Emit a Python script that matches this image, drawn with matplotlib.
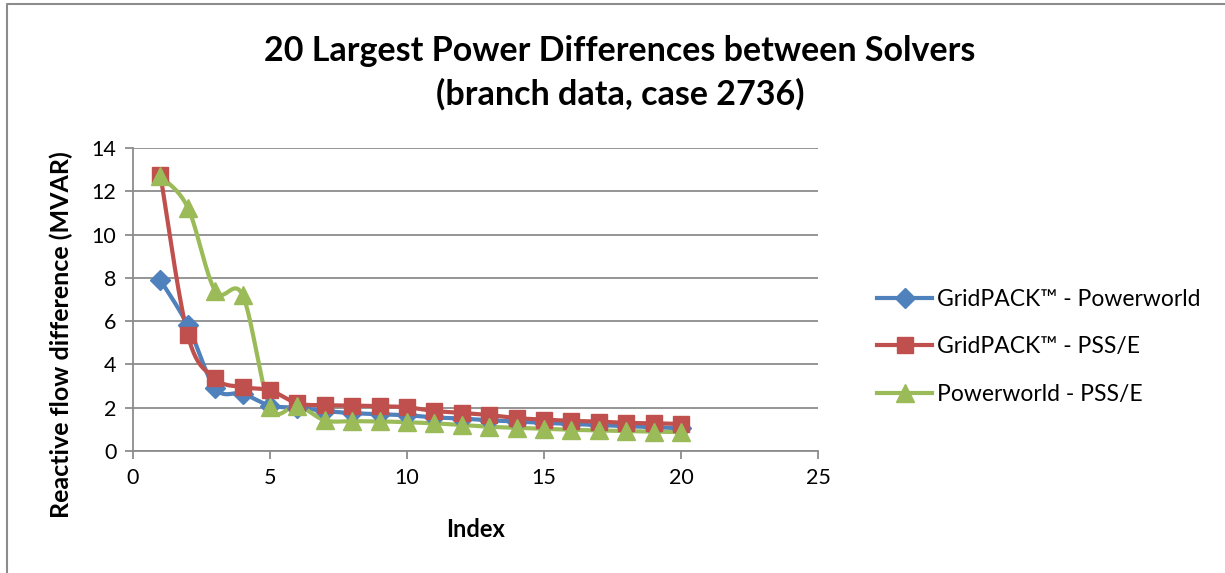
import matplotlib.pyplot as plt
import numpy as np
from matplotlib.lines import Line2D

plt.rcParams['font.family'] = ['Lato', 'DejaVu Sans']

# Data
index = list(range(1, 21))
gridpack_powerworld = [7.9, 5.8, 2.9, 2.65, 2.1, 2.0, 1.85, 1.75, 1.7, 1.65,
                       1.55, 1.5, 1.42, 1.36, 1.3, 1.25, 1.2, 1.15, 1.1, 1.05]
gridpack_psse = [12.75, 5.35, 3.35, 2.95, 2.8, 2.2, 2.12, 2.1, 2.07, 2.02,
                 1.85, 1.76, 1.66, 1.52, 1.45, 1.39, 1.36, 1.3, 1.28, 1.25]
powerworld_psse = [12.7, 11.25, 7.4, 7.2, 2.05, 2.1, 1.42, 1.38, 1.37, 1.33,
                   1.28, 1.2, 1.12, 1.07, 1.02, 0.98, 0.95, 0.92, 0.9, 0.87]
labels = ['GridPACK\u2122 - Powerworld', 'GridPACK\u2122 - PSS/E', 'Powerworld - PSS/E']
colors = ['#4F81BD', '#C0504D', '#9BBB59']
markers = ['D', 's', '^']
msizes = [10, 12, 13]


# Excel-like smoothed line (Catmull-Rom as cubic Bezier)
def smooth(x, y, n=30):
    p = np.column_stack([x, y]).astype(float)
    pts = [p[0]]
    for i in range(len(p) - 1):
        p0 = p[i - 1] if i > 0 else p[i]
        p1, p2 = p[i], p[i + 1]
        p3 = p[i + 2] if i + 2 < len(p) else p[i + 1]
        c1 = p1 + (p2 - p0) / 6
        c2 = p2 - (p3 - p1) / 6
        t = np.linspace(0, 1, n)[1:, None]
        seg = ((1 - t) ** 3 * p1 + 3 * (1 - t) ** 2 * t * c1
               + 3 * (1 - t) * t ** 2 * c2 + t ** 3 * p2)
        pts.extend(seg)
    pts = np.array(pts)
    return pts[:, 0], pts[:, 1]


fig = plt.figure(figsize=(12.25, 5.73), dpi=100)
ax = fig.add_axes([133 / 1225, 1 - 451 / 573, (818 - 133) / 1225, (451 - 148) / 573])

series = [gridpack_powerworld, gridpack_psse, powerworld_psse]
handles = []
for vals, lab, c, m, ms in zip(series, labels, colors, markers, msizes):
    sx, sy = smooth(index, vals)
    ax.plot(sx, sy, color=c, lw=3, solid_capstyle='round', zorder=2)
    ax.plot(index, vals, ls='none', marker=m, ms=ms, color=c, zorder=3)
    handles.append(Line2D([], [], color=c, lw=3, marker=m, ms=ms, label=lab))

ax.set_xlim(0, 25)
ax.set_ylim(0, 14)
ax.set_xticks(range(0, 26, 5))
ax.set_yticks(range(0, 15, 2))
ax.yaxis.grid(True, color='#8C8C8C', lw=1.3)
ax.set_axisbelow(True)
for s in ['top', 'right']:
    ax.spines[s].set_visible(False)
for s in ['left', 'bottom']:
    ax.spines[s].set_color('#8C8C8C')
    ax.spines[s].set_linewidth(1.3)
ax.tick_params(length=6, width=1.3, color='#8C8C8C', labelsize=15.5, pad=6)

ax.set_xlabel('Index', fontsize=17, fontweight='bold', labelpad=22)
ax.set_ylabel('Reactive flow difference (MVAR)', fontsize=18, fontweight='bold')
ax.yaxis.set_label_coords(-0.088, 0.385)

fig.text(0.506, 0.873, '20 Largest Power Differences between Solvers\n(branch data, case 2736)',
         ha='center', va='center', fontsize=24.5, fontweight='bold', linespacing=1.42)

fig.legend(handles=handles, loc='center left', bbox_to_anchor=(868 / 1225, 1 - 347 / 573),
           frameon=False, fontsize=16.5, handlelength=2.4, handletextpad=0.2,
           labelspacing=1.17, borderaxespad=0)

# chart border
fig.add_artist(Line2D([7 / 1225, 7 / 1225, 1.0], [0.0, 1 - 4 / 573, 1 - 4 / 573],
                      transform=fig.transFigure, color='#8C8C8C', lw=1.5))

fig.savefig('out.png', dpi=100)
